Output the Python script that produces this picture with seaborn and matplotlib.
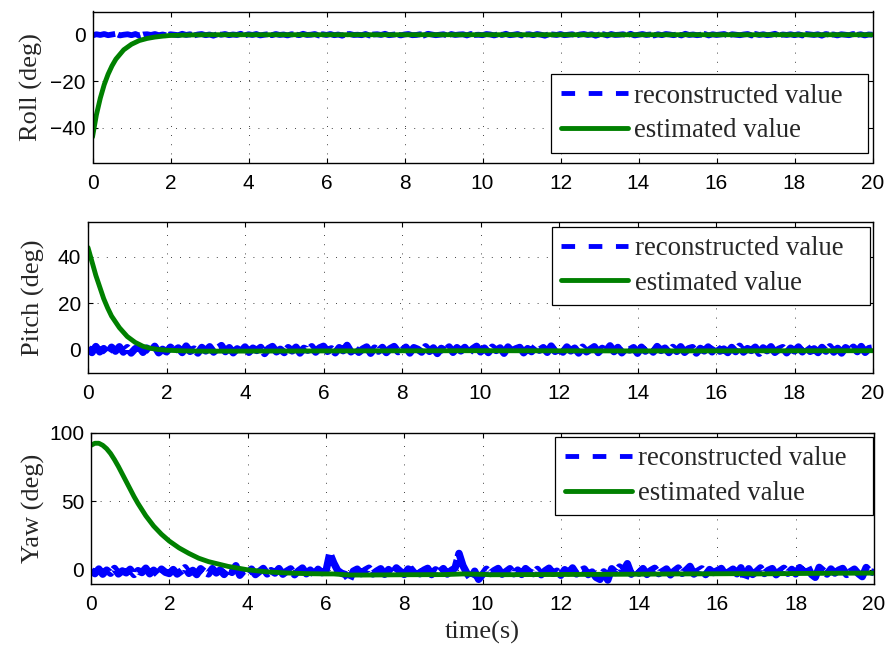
import numpy as np
import pandas as pd
import matplotlib
matplotlib.use("Agg")
import matplotlib.pyplot as plt
from matplotlib.lines import Line2D
import seaborn as sns

# reconstructed values, sampled every 0.1 s from 0 to 20 s
t_rec = np.linspace(0, 20, 201)

roll_rec = [
    -0.3, 0.2, -0.1, 0.3, -0.2, 0.1, 0.4, -0.3, 0.0, 0.2,
    -0.2, 0.3, -0.4, 0.1, 0.2, -0.1, 0.3, -0.2, 0.1, -0.3,
    0.2, 0.0, -0.2, 0.4, -0.1, 0.2, -0.3, 0.1, 0.3, -0.2,
    0.1, -0.4, 0.2, 0.0, 0.3, -0.2, 0.1, -0.1, 0.4, -0.3,
    0.2, -0.1, 0.3, -0.3, 0.0, 0.2, -0.2, 0.3, -0.1, 0.1,
    -0.3, 0.2, 0.1, -0.2, 0.4, -0.1, 0.0, 0.3, -0.3, 0.2,
    -0.1, 0.3, -0.2, 0.1, -0.4, 0.2, 0.3, -0.1, 0.0, -0.2,
    0.3, -0.3, 0.1, 0.2, -0.1, 0.4, -0.2, 0.0, 0.2, -0.3,
    0.1, 0.3, -0.2, -0.1, 0.2, -0.3, 0.4, 0.1, -0.2, 0.0,
    0.2, -0.4, 0.3, -0.1, 0.1, 0.2, -0.3, 0.3, -0.1, 0.0,
    -0.2, 0.3, 0.1, -0.3, 0.2, -0.1, 0.4, -0.2, 0.0, 0.3,
    -0.3, 0.1, 0.2, -0.2, 0.3, 0.0, -0.4, 0.2, 0.1, -0.1,
    0.3, -0.2, 0.0, 0.2, -0.3, 0.1, 0.3, -0.1, 0.2, -0.4,
    0.1, 0.2, -0.3, 0.3, -0.1, 0.0, 0.2, -0.2, 0.4, -0.3,
    0.0, 0.3, -0.1, 0.1, -0.3, 0.2, -0.2, 0.3, 0.1, -0.2,
    0.2, -0.3, 0.4, -0.1, 0.1, -0.2, 0.0, 0.3, -0.3, 0.2,
    -0.1, 0.1, 0.3, -0.4, 0.2, 0.0, -0.2, 0.1, 0.3, -0.3,
    0.3, -0.1, 0.2, -0.2, 0.0, 0.4, -0.3, 0.1, -0.1, 0.2,
    -0.2, 0.2, -0.3, 0.3, 0.1, -0.1, 0.2, -0.4, 0.3, 0.0,
    0.1, -0.3, 0.2, 0.0, -0.2, 0.3, -0.1, 0.2, -0.3, 0.1,
    0.0,
]

pitch_rec = [
    0.8, -1.2, 1.4, -0.9, 0.5, -1.5, 1.1, -0.6, 1.3, -1.0,
    0.9, -1.4, 0.4, 1.2, -1.1, 0.7, -0.8, 1.5, -1.3, 0.2,
    -0.9, 1.1, -0.4, 0.8, -1.2, 1.6, -0.7, 0.3, -1.4, 1.0,
    -0.5, 1.3, -1.0, 0.6, 1.8, -0.8, 0.9, -1.3, 0.4, -0.6,
    1.2, -1.1, 0.7, -0.3, 1.0, -1.6, 0.5, 1.4, -0.9, 0.2,
    -1.2, 0.9, -0.5, 1.1, -1.4, 0.6, -0.2, 1.3, -1.0, 0.8,
    1.5, -0.7, 0.4, -1.3, 0.9, -0.4, 1.9, -0.9, 0.6, -1.1,
    0.3, 1.2, -1.5, 0.7, -0.6, 1.0, -1.2, 0.5, 1.4, -0.8,
    -0.3, 1.1, -1.4, 0.9, 0.2, -1.0, 1.3, -0.7, 0.8, -1.6,
    0.6, -0.4, 1.2, -1.1, 0.9, -0.5, 1.0, -1.3, 0.4, 1.5,
    -0.9, 0.7, -1.2, 1.1, -0.3, 0.8, -1.5, 1.2, -0.6, 0.4,
    1.0, -1.3, 0.5, -0.8, 1.4, -0.2, 0.9, -1.1, 1.6, -0.7,
    0.3, -1.0, 1.2, -0.5, 0.7, -1.4, 1.1, -0.9, 0.2, 1.3,
    -1.2, 0.6, -0.4, 1.7, -0.8, 1.0, -1.3, 0.5, -0.1, 0.9,
    -1.5, 1.1, -0.6, 0.8, -1.0, 1.4, -0.3, 0.7, -1.2, 1.0,
    -0.7, 1.3, -1.1, 0.4, 0.9, -1.4, 0.6, -0.5, 1.2, -0.9,
    1.8, -0.6, 0.3, -1.2, 1.0, -0.8, 1.5, -1.0, 0.5, -0.3,
    1.1, -1.5, 0.8, -0.4, 1.3, -1.1, 0.2, 0.9, -1.3, 0.7,
    -0.5, 1.2, -0.9, 1.6, -0.7, 0.4, -1.2, 1.0, -0.6, 1.3,
    -1.0, 0.6, -1.4, 0.9, -0.2, 1.1, -0.8, 1.4, -1.1, 0.5,
    0.8,
]

yaw_rec = [
    -0.5, -2.8, 0.6, -3.2, -0.2, -2.5, 1.0, -3.0, -0.8, -2.2,
    0.4, -3.4, -0.6, -2.0, 1.2, -2.9, -0.3, -3.3, 0.5, -1.8,
    -2.7, 0.2, -3.1, -1.0, 1.5, -2.6, -0.4, -3.5, 0.8, -1.6,
    -3.0, 0.9, -2.3, -0.1, -3.4, 0.3, -1.9, 3.0, -4.0, -0.7,
    -2.8, 0.5, -3.5, -1.2, 1.0, -3.0, -0.6, -2.4, 0.9, -3.2,
    -1.0, 0.7, -3.6, -0.8, 1.3, -2.9, -0.2, -3.3, 0.4, -2.1,
    -1.2, 12.0, 5.0, -0.5, -2.5, -3.5, -7.5, -1.0, 0.5, -2.8,
    -0.4, 1.2, -3.0, -0.9, 0.8, -3.3, 0.2, -2.6, 1.4, -1.1,
    -3.4, 0.6, -0.8, 1.6, -2.9, -0.3, 1.1, -3.5, 0.0, -1.7,
    0.9, -3.1, -0.5, 1.3, 12.0, 3.0, -2.4, -6.5, -1.0, -7.0,
    -3.5, 0.4, -2.7, -0.6, 1.0, -3.2, -1.3, 0.8, -2.9, -0.2,
    -3.4, 0.9, -1.5, -2.8, 0.3, -3.6, -0.7, 1.2, -2.6, -1.0,
    -4.0, 0.1, -2.2, 1.4, -3.0, -0.8, 0.6, -3.5, -1.6, -5.5,
    -7.0, -1.5, -7.5, 0.8, -2.0, 2.0, -0.6, 4.5, -3.2, 0.4,
    -2.5, 0.9, -3.4, -0.5, 1.1, -2.8, -1.2, 0.6, -3.7, -0.9,
    1.3, -2.6, -0.3, 2.5, -3.1, -1.0, 0.7, -3.5, 0.2, -2.0,
    -0.6, 1.0, -3.3, -1.4, 0.5, -2.9, 1.5, -7.0, 0.8, -3.4,
    -1.2, 1.4, -2.7, -0.4, 0.9, -3.6, -0.9, 1.1, -2.5, 0.3,
    -3.0, 1.6, -1.1, 2.6, -3.3, -5.5, 1.8, -0.7, -3.1, 0.6,
    -2.4, -0.2, 1.0, -3.4, -1.3, 0.5, -2.8, -5.0, 1.7, -1.4,
    -2.0,
]

# estimated values
t_roll_est = [0, 0.1, 0.2, 0.3, 0.4, 0.5, 0.6, 0.8, 1.0, 1.2, 1.4, 1.6, 1.8, 2.0, 2.5, 3.0, 20]
roll_est = [-44, -34.5, -27.3, -21.5, -17, -13.4, -10.5, -6.5, -4.1, -2.5, -1.6, -1.0, -0.6, -0.3, -0.1, 0.0, 0.0]

t_pitch_est = [0, 0.1, 0.2, 0.3, 0.4, 0.5, 0.6, 0.8, 1.0, 1.2, 1.4, 1.6, 1.8, 2.0, 2.5, 3.0, 6.0, 10.0, 14.0, 20]
pitch_est = [44, 38, 32, 27, 22, 18, 14.5, 9.5, 5.7, 3.2, 1.5, 0.6, 0.1, -0.2, -0.5, -0.6, -0.5, -0.4, -0.5, -0.4]

t_yaw_est = [0, 0.1, 0.2, 0.3, 0.4, 0.5, 0.6, 0.7, 0.8, 0.9, 1.0, 1.1, 1.2, 1.4, 1.6, 1.8,
             2.0, 2.25, 2.5, 2.75, 3.0, 3.5, 4.0, 4.5, 5.0, 5.5, 6.0, 6.2, 6.6, 7.0, 8.0,
             9.0, 9.5, 10.0, 10.2, 11.0, 12.0, 13.0, 14.0, 15.0, 16.0, 16.6, 17.0, 18.0, 19.0, 20.0]
yaw_est = [91, 92.5, 92.5, 91, 88.5, 85, 80.5, 75.5, 70, 64.5, 59, 53.5, 48.5, 39.5, 32, 26,
           21, 16, 12, 8.5, 6, 2.5, 0, -1.5, -2.3, -2.8, -3.0, -3.0, -3.8, -3.8, -3.6,
           -3.5, -3.0, -3.3, -3.6, -3.5, -3.4, -3.3, -3.2, -3.0, -2.9, -2.8, -3.0, -2.7, -2.5, -2.4]

ylabels = ["Roll (deg)", "Pitch (deg)", "Yaw (deg)"]
ylims = [(-55, 10), (-10, 55), (-10, 100)]
yticks = [[-40, -20, 0], [0, 20, 40], [0, 50, 100]]

BLUE = "#0000ff"
GREEN = "#008000"

sns.set_theme(style="ticks")
plt.rcParams.update({
    "font.family": ["Liberation Sans", "DejaVu Sans"],
    "xtick.direction": "in",
    "ytick.direction": "in",
    "xtick.top": True,
    "ytick.right": True,
    "xtick.major.size": 3.5,
    "ytick.major.size": 3.5,
    "xtick.labelsize": 15,
    "ytick.labelsize": 15,
    "xtick.color": "black",
    "ytick.color": "black",
    "axes.edgecolor": "black",
    "axes.linewidth": 1.0,
})
serif = ["Liberation Serif", "DejaVu Serif"]

fig = plt.figure(figsize=(8.91, 6.45), dpi=100)
W, H = 891, 645
# axes boxes in pixels: left, top, right, bottom
boxes = [(92.5, 11.5, 872.5, 162.5), (88, 222, 873, 373), (91, 433, 874, 583.5)]
label_right = [43, 45, 45]
rec_lw = [4.2, 5.3, 5.3]
# legend boxes in axes fractions: x0, y0, width, height, loc
leg_boxes = [
    (0.588, 0.066, 0.406, 0.5, "lower left"),
    (0.591, 0.467, 0.405, 0.5, "upper left"),
    (0.593, 0.473, 0.406, 0.5, "upper left"),
]

rec_sets = [roll_rec, pitch_rec, yaw_rec]
est_sets = [(t_roll_est, roll_est), (t_pitch_est, pitch_est), (t_yaw_est, yaw_est)]

for i in range(3):
    l, tp, r, b = boxes[i]
    ax = fig.add_axes([l / W, 1 - b / H, (r - l) / W, (b - tp) / H])
    rec = pd.DataFrame({"t": t_rec, "v": rec_sets[i]})
    est = pd.DataFrame({"t": est_sets[i][0], "v": est_sets[i][1]})
    sns.lineplot(data=rec, x="t", y="v", ax=ax, color=BLUE, lw=rec_lw[i],
                 linestyle=(0, (4, 0.5)), estimator=None)
    sns.lineplot(data=est, x="t", y="v", ax=ax, color=GREEN, lw=3.5, estimator=None)

    ax.set_xlim(0, 20)
    ax.set_xticks(range(0, 21, 2))
    ax.set_ylim(*ylims[i])
    ax.set_yticks(yticks[i])
    ax.tick_params(axis="x", pad=8, width=0.8)
    ax.tick_params(axis="y", pad=5, width=0.8)
    ax.grid(True, color="black", lw=0.6, linestyle=(0, (1, 10)))
    ax.set_axisbelow(True)
    for s in ax.spines.values():
        s.set_visible(True)
        s.set_color("black")

    ax.set_ylabel(ylabels[i], fontsize=19, family=serif)
    ax.yaxis.set_label_coords((label_right[i] - l) / (r - l), 0.5)
    if i == 2:
        ax.set_xlabel("time(s)", fontsize=19, family=serif, labelpad=5)
    else:
        ax.set_xlabel("")

    handles = [
        Line2D([], [], color=BLUE, lw=3.5, linestyle=(0, (2.8, 2.8))),
        Line2D([], [], color=GREEN, lw=3.5),
    ]
    x0, y0, bw, bh, loc = leg_boxes[i]
    leg = ax.legend(handles, ["reconstructed value", "estimated value"], loc=loc,
                    bbox_to_anchor=(x0, y0, bw, bh), mode="expand",
                    prop={"family": serif, "size": 19.3},
                    frameon=True, fancybox=False, framealpha=1, borderaxespad=0,
                    handlelength=2.5, handletextpad=0.25, labelspacing=0.355,
                    borderpad=0.35)
    leg.get_frame().set_edgecolor("black")
    leg.get_frame().set_linewidth(0.9)

fig.savefig("out.png", dpi=100)
